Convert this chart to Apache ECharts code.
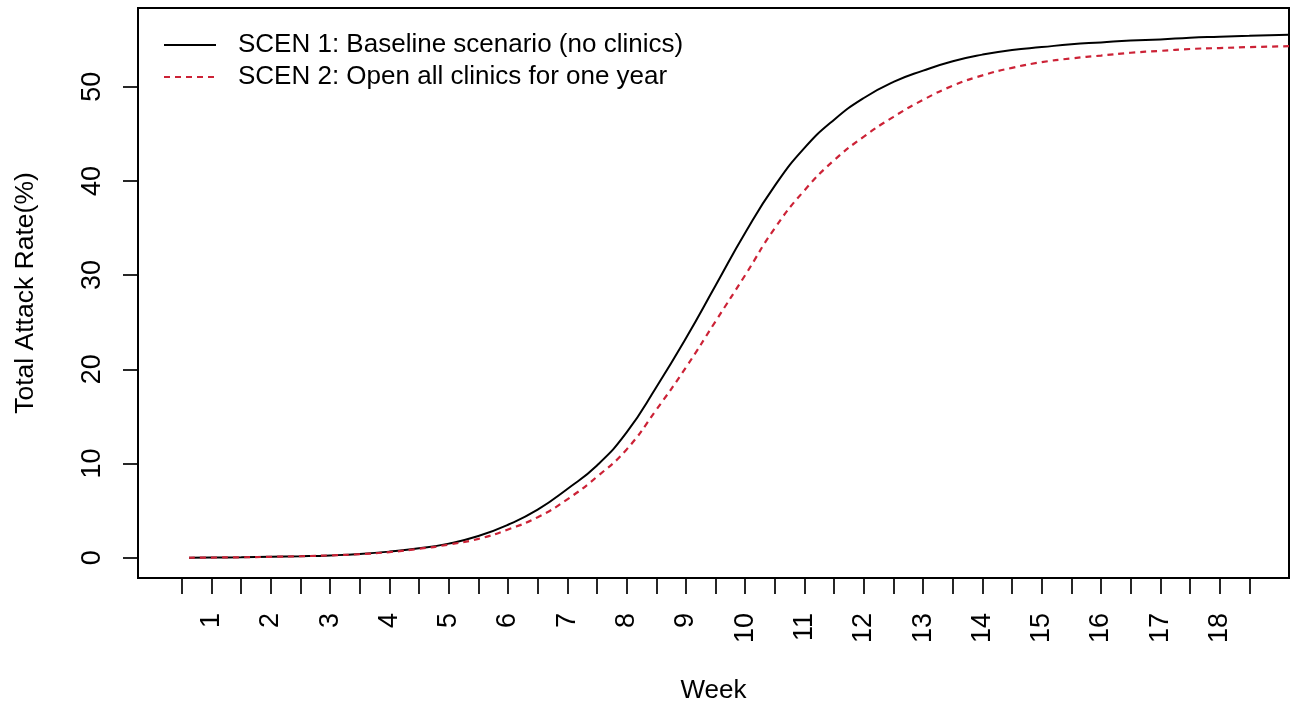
<!DOCTYPE html>
<html>
<head>
<meta charset="utf-8">
<script src="https://cdn.jsdelivr.net/npm/echarts@6/dist/echarts.min.js"></script>
<style>html,body{margin:0;padding:0;background:#fff}#c{width:1295px;height:709px}</style>
</head>
<body>
<div id="c"></div>
<script>
const weeks = [0.62,1,1.5,2,2.5,3,3.5,4,4.5,5,5.5,6,6.5,7,7.5,8,8.5,9,9.5,10,10.5,11,11.5,12,12.5,13,13.5,14,14.5,15,15.5,16,16.5,17,17.5,18,18.5,19.17];
const scen1 = [0,0.02,0.05,0.1,0.16,0.25,0.4,0.65,1.0,1.5,2.3,3.5,5.1,7.3,9.8,13.3,18.1,23.3,28.9,34.5,39.5,43.5,46.5,48.8,50.5,51.7,52.7,53.4,53.9,54.2,54.5,54.7,54.9,55.0,55.2,55.3,55.4,55.5];
const scen2 = [0,0.02,0.05,0.1,0.16,0.25,0.38,0.6,0.95,1.4,2.0,3.0,4.3,6.2,8.6,11.5,15.7,20.2,25.1,30.0,35.0,39.0,42.2,44.7,46.8,48.6,50.1,51.2,52.0,52.6,53.0,53.3,53.6,53.8,54.0,54.1,54.2,54.3];
const xTickValues = [0.5,1,1.5,2,2.5,3,3.5,4,4.5,5,5.5,6,6.5,7,7.5,8,8.5,9,9.5,10,10.5,11,11.5,12,12.5,13,13.5,14,14.5,15,15.5,16,16.5,17,17.5,18,18.5];
const xLabelValues = [1,2,3,4,5,6,7,8,9,10,11,12,13,14,15,16,17,18];
const yTickValues = [0,10,20,30,40,50];
const seriesNames = ['SCEN 1: Baseline scenario (no clinics)','SCEN 2: Open all clinics for one year'];

const FF = '"Liberation Sans", Arial, sans-serif';
const chart = echarts.init(document.getElementById('c'), null, {renderer:'canvas'});
chart.setOption({
  backgroundColor:'#fff',
  animation:false,
  grid:{left:138,right:6,top:8,bottom:129,show:true,borderColor:'#000',borderWidth:2,backgroundColor:'transparent'},
  legend:{
    left:158, top:27, orient:'vertical',
    itemWidth:52, itemHeight:14, itemGap:6,
    itemStyle:{opacity:0},
    textStyle:{fontSize:26,color:'#000',fontFamily:FF,padding:[0,0,0,17],lineHeight:26},
    data:seriesNames
  },
  xAxis:{
    type:'value', min:-0.24, max:19.17,
    name:'Week', nameLocation:'middle', nameGap:100,
    nameTextStyle:{fontSize:26,color:'#000',fontFamily:FF},
    axisLine:{show:false,onZero:false},
    splitLine:{show:false},
    axisTick:{show:true,length:16,lineStyle:{color:'#000',width:1.7},customValues:xTickValues},
    axisLabel:{rotate:90,margin:35,fontSize:27,color:'#000',fontFamily:FF,customValues:xLabelValues}
  },
  yAxis:{
    type:'value', min:-2.15, max:58.35,
    name:'Total Attack Rate(%)', nameLocation:'middle', nameGap:99,
    nameTextStyle:{fontSize:26.5,color:'#000',fontFamily:FF},
    axisLine:{show:false,onZero:false},
    splitLine:{show:false},
    axisTick:{show:true,length:15,lineStyle:{color:'#000',width:1.7},customValues:yTickValues},
    axisLabel:{rotate:90,margin:32,fontSize:27,color:'#000',fontFamily:FF,customValues:yTickValues}
  },
  series:[
    {name:seriesNames[0],type:'line',smooth:true,symbol:'none',
     lineStyle:{color:'#000',width:2,type:'solid'},itemStyle:{color:'#000'},
     data:weeks.map((w,i)=>[w,scen1[i]])},
    {name:seriesNames[1],type:'line',smooth:true,symbol:'none',
     lineStyle:{color:'#cc2236',width:2.2,type:[6,5]},itemStyle:{color:'#cc2236'},
     data:weeks.map((w,i)=>[w,scen2[i]])}
  ]
});
</script>
</body>
</html>
